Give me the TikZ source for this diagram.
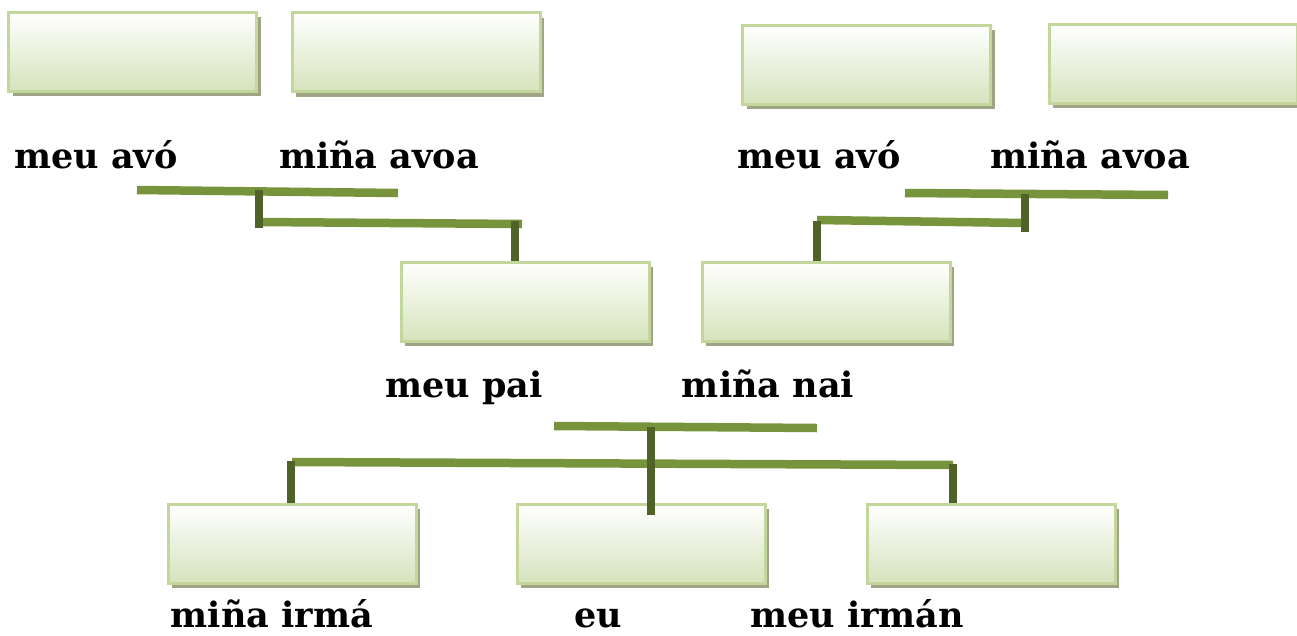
\documentclass[tikz,border=0pt]{standalone}
\usepackage{fontspec}
\setmainfont{DejaVu Serif}
\usepackage{tikz}
\usetikzlibrary{shadows}
\definecolor{barGreen}{RGB}{119,147,60}
\definecolor{stemGreen}{RGB}{79,98,40}
\definecolor{boxLine}{RGB}{195,214,155}
\definecolor{boxBottom}{RGB}{214,227,188}
\definecolor{shadowGrey}{RGB}{158,164,132}

\begin{document}
\begin{tikzpicture}[x=1pt,y=-1pt]
\tikzstyle{every node}+=[inner sep=0pt]
\tikzstyle{kinbox}=[rectangle,minimum width=248pt,minimum height=79pt,draw=boxLine,line width=3pt,
  top color=white,bottom color=boxBottom,
  drop shadow={shadow xshift=4pt,shadow yshift=-5pt,fill=shadowGrey,opacity=1}]
\tikzstyle{kinbar}=[barGreen,line width=8.5pt]
\tikzstyle{kinstem}=[stemGreen,line width=8.5pt]
\tikzstyle{kinlabel}=[anchor=base,font=\fontsize{35}{38}\selectfont\bfseries]
\useasboundingbox (0,0) rectangle (1297,635);
\node [kinbox] (avoP) at (132.5,51.5) {};
\node [kinbox] (avoaP) at (416,52) {};
\node [kinbox] (avoM) at (866.5,64.5) {};
\node [kinbox] (avoaM) at (1173,63.5) {};
\node [kinbox] (pai) at (525,301.5) {};
\node [kinbox] (nai) at (826,301.5) {};
\node [kinbox] (irma) at (292,543.5) {};
\node [kinbox] (eu) at (641,543.5) {};
\node [kinbox] (irman) at (991,543.5) {};
\node [kinlabel] (lavoP) at (96,168) {meu avó};
\node [kinlabel] (lavoaP) at (379,168) {miña avoa};
\node [kinlabel] (lavoM) at (819,168) {meu avó};
\node [kinlabel] (lavoaM) at (1090,168) {miña avoa};
\node [kinlabel] (lpai) at (464,397) {meu pai};
\node [kinlabel] (lnai) at (768,397) {miña nai};
\node [kinlabel] (lirma) at (272,627) {miña irmá};
\node [kinlabel] (leu) at (598,627) {eu};
\node [kinlabel] (lirman) at (857,627) {meu irmán};
\coordinate (wedP1) at (137,190);
\coordinate (wedP2) at (398,193);
\coordinate (downP1) at (259,222);
\coordinate (downP2) at (522,224);
\coordinate (wedM1) at (905,193);
\coordinate (wedM2) at (1168,195);
\coordinate (downM1) at (817,220);
\coordinate (downM2) at (1025,223);
\coordinate (wedK1) at (554,426);
\coordinate (wedK2) at (817,428);
\coordinate (kids1) at (292,462);
\coordinate (kids2) at (953,465);
\coordinate (topP) at (259,190);
\coordinate (botP) at (259,228);
\coordinate (toPai) at (515,221);
\coordinate (topM) at (1025,194);
\coordinate (botM) at (1025,232);
\coordinate (toNai) at (817,221);
\coordinate (topK) at (651,427);
\coordinate (toEu) at (651,515);
\coordinate (toIrma) at (291,461);
\coordinate (toIrman) at (953,464);
\draw [kinbar] (wedP1) -- (wedP2);
\draw [kinbar] (downP1) -- (downP2);
\draw [kinbar] (wedM1) -- (wedM2);
\draw [kinbar] (downM1) -- (downM2);
\draw [kinbar] (wedK1) -- (wedK2);
\draw [kinbar] (kids1) -- (kids2);
\draw [kinstem] (topP) -- (botP);
\draw [kinstem] (toPai) -- (toPai |- pai.north);
\draw [kinstem] (topM) -- (botM);
\draw [kinstem] (toNai) -- (toNai |- nai.north);
\draw [kinstem] (topK) -- (toEu);
\draw [kinstem] (toIrma) -- (toIrma |- irma.north);
\draw [kinstem] (toIrman) -- (toIrman |- irman.north);
\end{tikzpicture}
\end{document}
